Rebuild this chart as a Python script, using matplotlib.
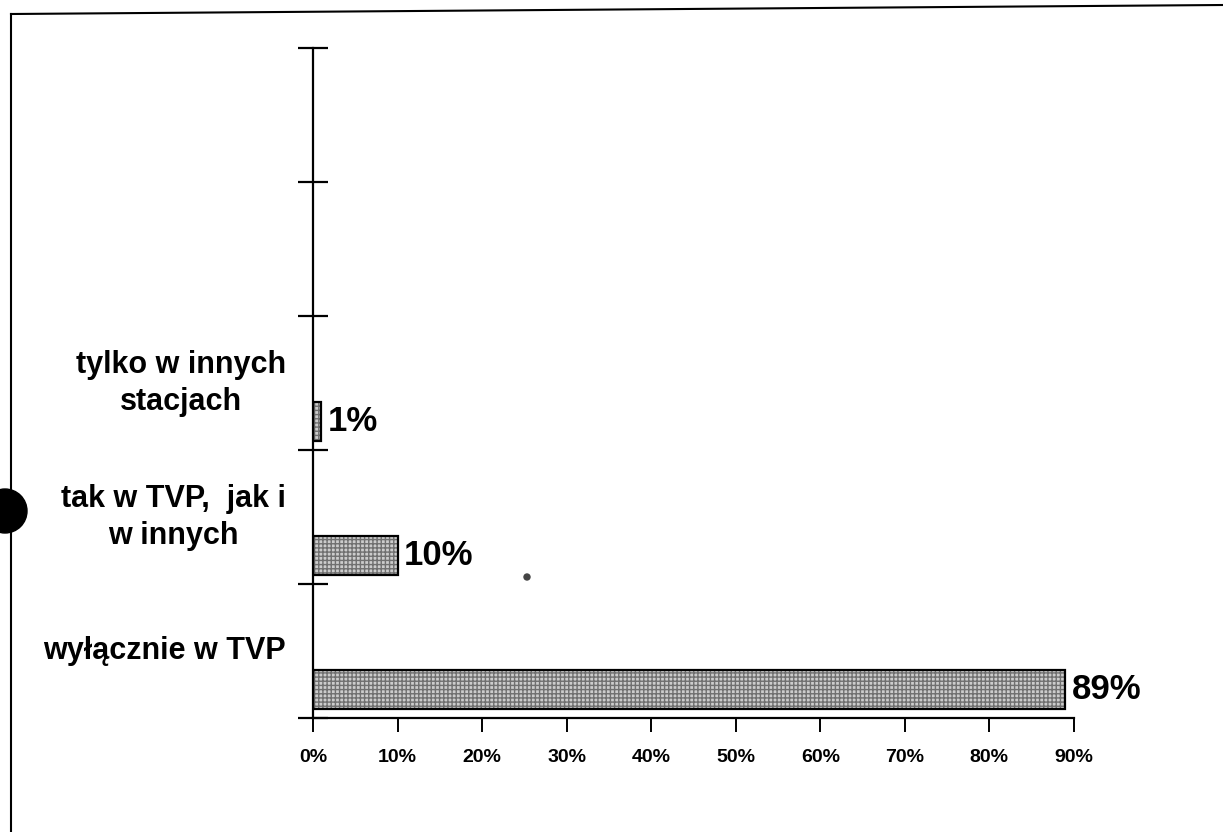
import matplotlib.pyplot as plt
from matplotlib.patches import Ellipse
import numpy as np

# categories from bottom to top, two empty slots on top
categories = ['wyłącznie w TVP', 'tak w TVP,  jak i\nw innych', 'tylko w innych\nstacjach']
values = [89, 10, 1]
value_labels = ['89%', '10%', '1%']
x_ticks = [0, 10, 20, 30, 40, 50, 60, 70, 80, 90]
n_slots = 5

plt.rcParams['font.family'] = ['Liberation Sans', 'DejaVu Sans']

W, H = 1223, 832
fig = plt.figure(figsize=(W / 100, H / 100), dpi=100)
ax = fig.add_axes([0.2559, 0.137, 0.6222, 0.805])

pos = np.arange(len(values))
bar_y = pos + 0.215
# stippled grey fill, then the black outline on top
ax.barh(bar_y, values, height=0.29, color='#cccccc', edgecolor='#707070',
        hatch='++++', linewidth=0)
ax.barh(bar_y, values, height=0.29, fill=False, edgecolor='black', linewidth=1.6)

for y, v, lab in zip(bar_y, values, value_labels):
    ax.text(v + 0.7, y, lab, va='center', ha='left', fontsize=25, fontweight='bold')

for i, cat in enumerate(categories):
    ax.text(-3.2, i + 0.5, cat, va='center', ha='right', multialignment='center',
            fontsize=22, fontweight='bold', linespacing=1.3)

ax.set_xlim(0, 90)
ax.set_ylim(0, n_slots)
ax.set_xticks(x_ticks)
ax.set_xticklabels(['%d%%' % t for t in x_ticks], fontsize=14, fontweight='bold')
ax.set_yticks(range(n_slots + 1))
ax.set_yticklabels([])
ax.tick_params(axis='y', direction='inout', length=22, width=1.6)
ax.tick_params(axis='x', direction='out', length=10, width=1.4, pad=12)
ax.spines['top'].set_visible(False)
ax.spines['right'].set_visible(False)
ax.spines['left'].set_linewidth(1.6)
ax.spines['bottom'].set_linewidth(1.6)
ax.spines['left'].set_position(('data', 0))

# scanned page frame (left and top edges)
fig.add_artist(plt.Line2D([11 / W, 11 / W], [0, 1 - 14 / H], color='black', lw=1.5))
fig.add_artist(plt.Line2D([11 / W, 1], [1 - 14 / H, 1 - 5 / H], color='black', lw=1.5))

# scanner artefacts
fig.add_artist(Ellipse((5 / W, 1 - 511 / H), 44 / W, 44 / H, transform=fig.transFigure,
                       color='black'))
fig.add_artist(Ellipse((527 / W, 1 - 577 / H), 6 / W, 6 / H, transform=fig.transFigure,
                       color='#444444'))

fig.savefig('out.png', dpi=100)
